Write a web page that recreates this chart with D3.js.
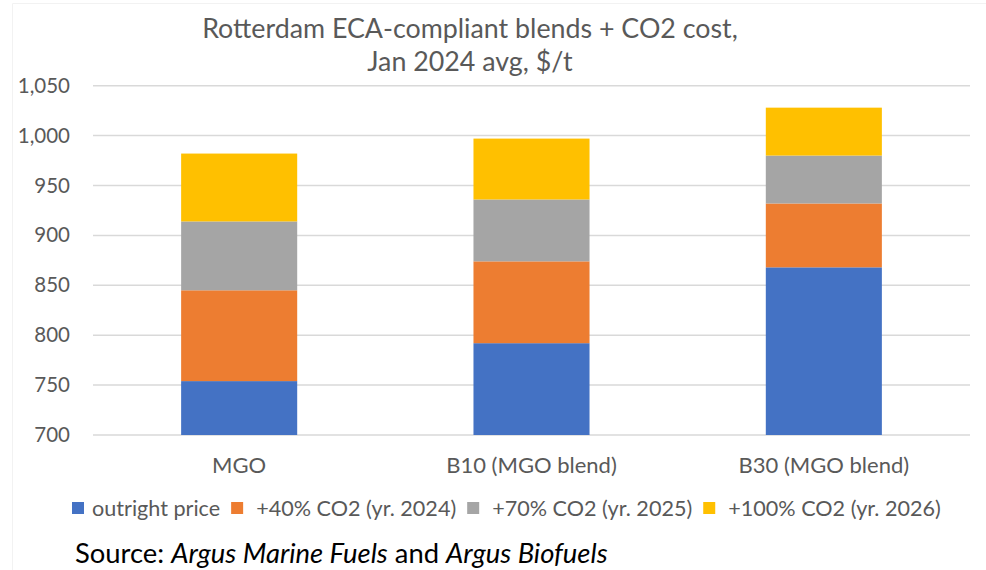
<!DOCTYPE html>
<html>
<head>
<meta charset="utf-8">
<script src="https://cdn.jsdelivr.net/npm/d3@7"></script>
<style>
  html, body { margin: 0; padding: 0; background: #fff; }
  svg { display: block; }
  text { font-family: Lato, "Open Sans", sans-serif; }
</style>
</head>
<body>
<svg id="chart" width="986" height="570"></svg>
<script>
const categories = ["MGO", "B10 (MGO blend)", "B30 (MGO blend)"];
const seriesNames = ["outright price", "+40% CO2 (yr. 2024)", "+70% CO2 (yr. 2025)", "+100% CO2 (yr. 2026)"];
const outright = [754, 792, 868];
const co2_2024 = [91, 82, 64];
const co2_2025 = [69, 62, 48];
const co2_2026 = [68, 61, 48];
const yTicks = [700, 750, 800, 850, 900, 950, 1000, 1050];
const titleLines = ["Rotterdam ECA-compliant blends + CO2 cost,", "Jan 2024 avg, $/t"];

const colors = ["#4472C4", "#ED7D31", "#A5A5A5", "#FFC000"];
const keys = ["s0", "s1", "s2", "s3"];
const table = categories.map((c, i) => ({
  cat: c, s0: outright[i], s1: co2_2024[i], s2: co2_2025[i], s3: co2_2026[i]
}));

const svg = d3.select("#chart");
const W = 986, H = 570;
const plotL = 93, plotR = 970, plotT = 85.7, plotB = 435;

// faint chart border
svg.append("path").attr("d", `M12.5,${H} V3.5 H${W}`).attr("fill", "none")
  .attr("stroke", "#F2F2F2").attr("stroke-width", 1);

const x = d3.scaleBand().domain(categories).range([plotL, plotR]).padding(0);
const y = d3.scaleLinear().domain([700, 1050]).range([plotB, plotT]);
const yMin = y.domain()[0];

// gridlines
svg.append("g").selectAll("line").data(yTicks).join("line")
  .attr("x1", plotL).attr("x2", plotR)
  .attr("y1", d => y(d)).attr("y2", d => y(d))
  .attr("stroke", "#D9D9D9").attr("stroke-width", 1.5);

// y axis labels
const yAxis = d3.axisLeft(y).tickValues(yTicks).tickSize(0).tickPadding(0)
  .tickFormat(d3.format(","));
const gy = svg.append("g").attr("transform", `translate(70,0)`).call(yAxis);
gy.select(".domain").remove();
gy.selectAll("text").attr("font-size", 20.5).attr("fill", "#595959")
  .style("font-family", "Lato, 'Open Sans', sans-serif");

// bars
const stack = d3.stack().keys(keys)(table);
const barW = x.bandwidth() * 0.397;
svg.append("g").selectAll("g").data(stack).join("g")
  .attr("fill", (d, i) => colors[i])
  .selectAll("rect").data(d => d).join("rect")
  .attr("x", d => x(d.data.cat) + (x.bandwidth() - barW) / 2)
  .attr("width", barW)
  .attr("y", d => y(d[1]))
  .attr("height", d => y(Math.max(d[0], yMin)) - y(d[1]));

// x axis labels
const xAxis = d3.axisBottom(x).tickSize(0).tickPadding(0);
const gx = svg.append("g").attr("transform", `translate(0,${plotB + 22})`).call(xAxis);
gx.select(".domain").remove();
gx.selectAll("text").attr("font-size", 22).attr("fill", "#595959")
  .style("font-family", "Lato, 'Open Sans', sans-serif");

// title
svg.append("g").selectAll("text").data(titleLines).join("text")
  .attr("x", 470).attr("y", (d, i) => 38 + i * 33)
  .attr("text-anchor", "middle").attr("font-size", 26.8).attr("fill", "#595959")
  .text(d => d);

// legend
const lg = svg.append("g");
let lx = 72;
seriesNames.forEach((name, i) => {
  lg.append("rect").attr("x", lx).attr("y", 502).attr("width", 12).attr("height", 12)
    .attr("fill", colors[i]);
  const gap = i === 0 ? 8 : 13;
  const t = lg.append("text").attr("x", lx + 12 + gap).attr("y", 516)
    .attr("font-size", 21.6).attr("fill", "#595959").text(name);
  lx = lx + 12 + gap + t.node().getComputedTextLength() + 11;
});

// source
const src = svg.append("text").attr("x", 75).attr("y", 563).attr("font-size", 27.4).attr("fill", "#000");
src.append("tspan").text("Source: ");
src.append("tspan").attr("font-style", "italic").text("Argus Marine Fuels");
src.append("tspan").text(" and ");
src.append("tspan").attr("font-style", "italic").text("Argus Biofuels");
</script>
</body>
</html>
